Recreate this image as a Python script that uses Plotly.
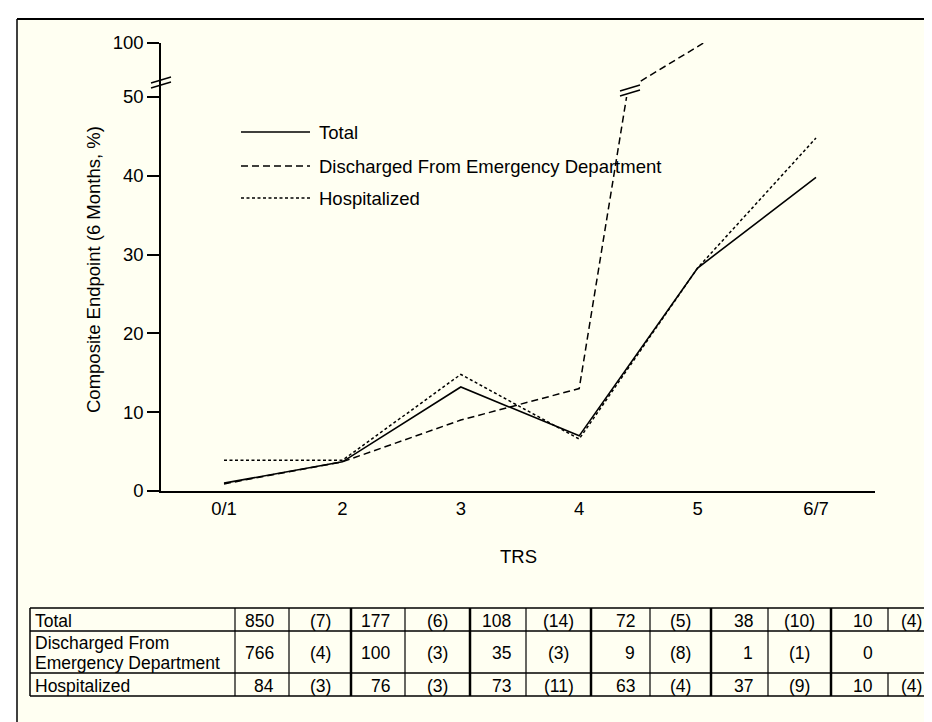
import plotly.graph_objects as go

# ---------------- data ----------------
trs_labels = ["0/1", "2", "3", "4", "5", "6/7"]
trs_pos = [0, 1, 2, 3, 4, 5]

total_pct = [1.0, 3.7, 13.2, 7.0, 28.3, 39.8]
hosp_pct = [3.9, 3.9, 14.8, 6.6, 28.3, 44.8]
# discharged: lower part (0-50 scale), then the broken upper part (50-100 scale)
disch_low_x = [0, 1, 2, 3, 3.40]
disch_low_y = [0.9, 3.7, 9.0, 13.0, 50.0]
disch_up_x = [3.52, 4.05]
disch_up_y = [64.8, 100.0]

row_labels = [["Total"], ["Discharged From", "Emergency Department"], ["Hospitalized"]]
row_n = [["850", "177", "108", "72", "38", "10"],
         ["766", "100", "35", "9", "1", "0"],
         ["84", "76", "73", "63", "37", "10"]]
row_events = [["(7)", "(6)", "(14)", "(5)", "(10)", "(4)"],
              ["(4)", "(3)", "(3)", "(8)", "(1)", ""],
              ["(3)", "(3)", "(11)", "(4)", "(9)", "(4)"]]

# ---------------- geometry helpers (pixel -> paper) ----------------
W, H = 932, 722
L, R, T, B = 153, 867, 35, 483
def X(px):
    return (px - L) / (R - L)
def Y(py):
    return (B - py) / (B - T)

FONT = "Liberation Sans, Arial, Helvetica, sans-serif"
BG = "#FFFFF2"
FS = 18.5

fig = go.Figure()
fig.add_trace(go.Scatter(x=trs_pos, y=total_pct, mode="lines",
                         line=dict(color="black", width=1.6), yaxis="y"))
fig.add_trace(go.Scatter(x=disch_low_x, y=disch_low_y, mode="lines",
                         line=dict(color="black", width=1.5, dash="7px,4px"), yaxis="y"))
fig.add_trace(go.Scatter(x=disch_up_x, y=disch_up_y, mode="lines",
                         line=dict(color="black", width=1.5, dash="7px,4px"), yaxis="y2"))
fig.add_trace(go.Scatter(x=trs_pos, y=hosp_pct, mode="lines",
                         line=dict(color="black", width=1.5, dash="3px,2.5px"), yaxis="y"))

split = Y(89)
fig.update_layout(
    width=W, height=H, showlegend=False,
    margin=dict(l=L, r=W - R, t=T, b=H - B, pad=0),
    paper_bgcolor=BG, plot_bgcolor=BG,
    font=dict(family=FONT, size=FS, color="black"),
    xaxis=dict(range=[(153 - 216) / 118.4, (867 - 216) / 118.4],
               tickvals=trs_pos, ticktext=trs_labels, showgrid=False, zeroline=False,
               showline=True, linecolor="black", linewidth=2, ticks="",
               tickfont=dict(size=FS)),
    yaxis=dict(domain=[0, split], range=[0, 50], tickvals=[0, 10, 20, 30, 40, 50],
               showgrid=False, zeroline=False, showline=True, linecolor="black",
               linewidth=1.5, ticks="outside", ticklen=12, tickwidth=1.5,
               tickcolor="black", tickfont=dict(size=FS)),
    yaxis2=dict(domain=[split, 1], range=[50, 100], tickvals=[100],
                showgrid=False, zeroline=False, showline=True, linecolor="black",
                linewidth=1.5, ticks="outside", ticklen=12, tickwidth=1.5,
                tickcolor="black", tickfont=dict(size=FS), anchor="x"),
)

shapes = []
ann = []

# page frame: white outside, black border lines
shapes.append(dict(type="rect", xref="paper", yref="paper", x0=X(0), x1=X(W + 5),
                   y0=Y(11), y1=Y(-5), fillcolor="white", line=dict(width=0), layer="below"))
shapes.append(dict(type="rect", xref="paper", yref="paper", x0=X(-5), x1=X(9),
                   y0=Y(H + 5), y1=Y(-5), fillcolor="white", line=dict(width=0), layer="below"))
shapes.append(dict(type="line", xref="paper", yref="paper", x0=X(9), x1=X(W + 5),
                   y0=Y(11), y1=Y(11), line=dict(color="black", width=2)))
shapes.append(dict(type="line", xref="paper", yref="paper", x0=X(9), x1=X(9),
                   y0=Y(11), y1=Y(H + 5), line=dict(color="black", width=1.5)))

# axis break marks
for dy in (0, 5):
    shapes.append(dict(type="line", xref="paper", yref="paper",
                       x0=X(143), x1=X(163), y0=Y(75 + dy), y1=Y(69 + dy),
                       line=dict(color="black", width=1.5)))
# line break marks on discharged series
for dy in (0, 5):
    shapes.append(dict(type="line", xref="paper", yref="paper",
                       x0=X(612), x1=X(632), y0=Y(83 + dy), y1=Y(77 + dy),
                       line=dict(color="black", width=1.5)))

# axis titles
ann.append(dict(text="Composite Endpoint (6 Months, %)", xref="paper", yref="paper",
                x=X(85), y=Y(262), textangle=-90, showarrow=False,
                xanchor="center", yanchor="middle", font=dict(size=FS)))
ann.append(dict(text="TRS", xref="paper", yref="paper", x=0.5, y=Y(548),
                showarrow=False, xanchor="center", yanchor="middle", font=dict(size=FS)))

# manual legend
leg = [("Total", None, 124), ("Discharged From Emergency Department", "7px,4px", 158),
       ("Hospitalized", "3px,2.5px", 190)]
for name, dash, py in leg:
    ln = dict(color="black", width=1.5)
    if dash:
        ln["dash"] = dash
    shapes.append(dict(type="line", xref="paper", yref="paper", x0=X(233), x1=X(302),
                       y0=Y(py), y1=Y(py), line=ln))
    ann.append(dict(text=name, xref="paper", yref="paper", x=X(309), y=Y(py),
                    showarrow=False, xanchor="left", yanchor="middle", font=dict(size=FS)))

# table
tbl_left, tbl_right = 22, 927
row_edges = [600, 623, 665, 688]
col_edges = [227, 281, 343, 397, 462, 518, 583, 642, 703, 760, 823, 880, 927]
thick_cols = {343, 462, 583, 703, 823}
TFS = 17.5

def hline(py, x0, x1, w=1.5):
    shapes.append(dict(type="line", xref="paper", yref="paper", x0=X(x0), x1=X(x1),
                       y0=Y(py), y1=Y(py), line=dict(color="black", width=w)))
def vline(px, y0, y1, w=1.5):
    shapes.append(dict(type="line", xref="paper", yref="paper", x0=X(px), x1=X(px),
                       y0=Y(y0), y1=Y(y1), line=dict(color="black", width=w)))

for py in row_edges:
    hline(py, tbl_left, tbl_right)
vline(tbl_left, row_edges[0], row_edges[-1])
for px in col_edges:
    w = 2.5 if px in thick_cols else 1.2
    for r in range(3):
        # the discharged row has no event cell in the last group
        if px == 880 and r == 1:
            continue
        vline(px, row_edges[r], row_edges[r + 1], w)

for r in range(3):
    yc = (row_edges[r] + row_edges[r + 1]) / 2
    lines = row_labels[r]
    step = 20
    start = yc - step * (len(lines) - 1) / 2
    for k, txt in enumerate(lines):
        ann.append(dict(text=txt, xref="paper", yref="paper", x=X(25),
                        y=Y(start + k * step + 1), showarrow=False, xanchor="left",
                        yanchor="middle", font=dict(size=TFS)))
    for g in range(6):
        c1 = col_edges[2 * g + 1]
        c2 = col_edges[2 * g + 2]
        ann.append(dict(text=row_n[r][g], xref="paper", yref="paper", x=X(c1 - 13),
                        y=Y(yc + 1), showarrow=False, xanchor="right", yanchor="middle",
                        font=dict(size=TFS)))
        if row_events[r][g]:
            ann.append(dict(text=row_events[r][g], xref="paper", yref="paper",
                            x=X((c1 + c2) / 2), y=Y(yc + 1), showarrow=False,
                            xanchor="center", yanchor="middle", font=dict(size=TFS)))

fig.update_layout(shapes=shapes, annotations=ann)
fig.write_html("out.html")
